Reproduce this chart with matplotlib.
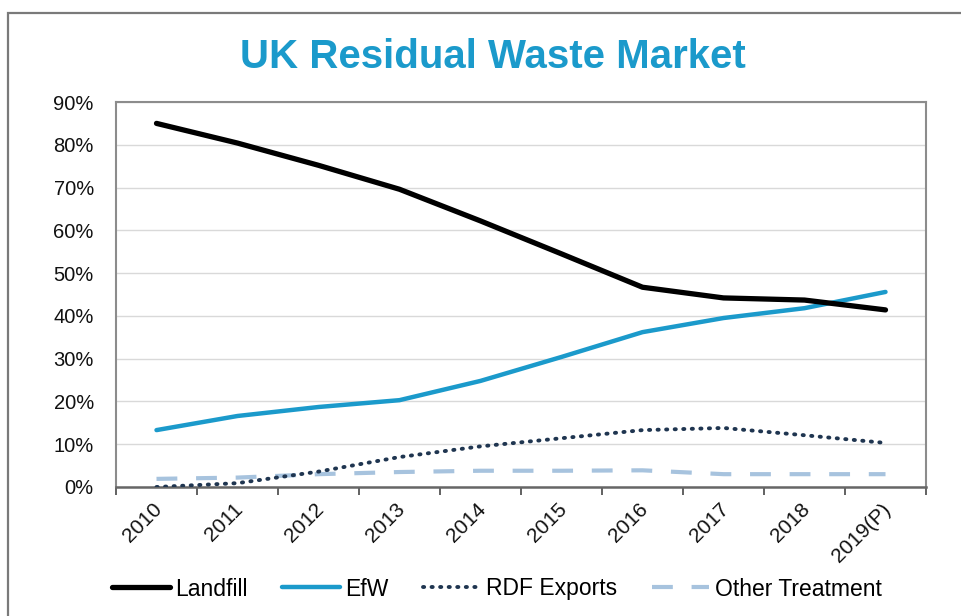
import numpy as np
import matplotlib.pyplot as plt
from matplotlib.patches import Rectangle
from matplotlib.ticker import FuncFormatter, FixedLocator
import matplotlib.transforms as mtransforms

plt.rcParams['font.family'] = ['Liberation Sans', 'DejaVu Sans']

years = ['2010', '2011', '2012', '2013', '2014', '2015', '2016', '2017', '2018', '2019(P)']
landfill = [0.850, 0.804, 0.752, 0.696, 0.622, 0.545, 0.467, 0.442, 0.437, 0.414]
efw = [0.133, 0.166, 0.187, 0.203, 0.248, 0.304, 0.362, 0.395, 0.418, 0.456]
rdf_exports = [0.000, 0.009, 0.036, 0.070, 0.095, 0.114, 0.133, 0.138, 0.121, 0.103]
other_treatment = [0.019, 0.022, 0.030, 0.035, 0.038, 0.038, 0.039, 0.030, 0.030, 0.030]

fig = plt.figure(figsize=(9.61, 6.16), dpi=100)
ax = fig.add_axes([116 / 961, 1 - 487 / 616, 810 / 961, 385 / 616])

x = np.arange(len(years))
ax.plot(x, landfill, color='black', lw=3.8, solid_capstyle='round', label='Landfill', zorder=5)
ax.plot(x, efw, color='#1b9acb', lw=3.2, solid_capstyle='round', label='EfW', zorder=4)
ax.plot(x, rdf_exports, color='#1f3550', lw=2.8, linestyle=(0, (0.3, 1.9)),
        dash_capstyle='round', label='RDF Exports', zorder=3)
ax.plot(x, other_treatment, color='#a7c3de', lw=3.0, linestyle=(0, (5, 4.5)),
        label='Other Treatment', zorder=2)

ax.set_xlim(-0.5, len(years) - 0.5)
ax.set_ylim(0, 0.9)
ax.set_yticks(np.arange(0, 0.91, 0.1))
ax.yaxis.set_major_formatter(FuncFormatter(lambda v, p: f'{v * 100:.0f}%'))
ax.tick_params(axis='y', length=0, pad=16, labelsize=14.5, labelcolor='#111111')
ax.grid(axis='y', color='#d9d9d9', lw=1.0)
ax.set_axisbelow(True)

# category labels in the middle, tick marks on the boundaries
ax.set_xticks(x)
ax.set_xticklabels(years, rotation=45, ha='right', fontsize=15, color='#111111')
ax.tick_params(axis='x', which='major', length=0, pad=9)
ax.xaxis.set_minor_locator(FixedLocator(np.arange(-0.5, len(years), 1.0)))
ax.tick_params(axis='x', which='minor', length=6, width=1.3, color='#555555')
shift = mtransforms.ScaledTranslation(9 / 100, 0, fig.dpi_scale_trans)
for lab in ax.get_xticklabels():
    lab.set_transform(lab.get_transform() + shift)

for side in ['left', 'right', 'top']:
    ax.spines[side].set_color('#8c8c8c')
    ax.spines[side].set_linewidth(1.5)
ax.spines['bottom'].set_color('#666666')
ax.spines['bottom'].set_linewidth(1.8)

fig.text(493 / 961, 1 - 57 / 616, 'UK Residual Waste Market', ha='center', va='center',
         fontsize=29, fontweight='bold', color='#1b9acb')

fig.legend(loc='center', bbox_to_anchor=(497 / 961, 1 - 589 / 616), ncol=4, frameon=False,
           fontsize=16.5, handlelength=2.5, handletextpad=0.25, columnspacing=1.5)

# outer chart frame
fig.patches.append(Rectangle((8 / 961, -0.1), 1.2, 0.1 + (1 - 13 / 616), transform=fig.transFigure,
                             fill=False, edgecolor='#7a7a7a', lw=1.6))

fig.savefig('out.png', dpi=100)
